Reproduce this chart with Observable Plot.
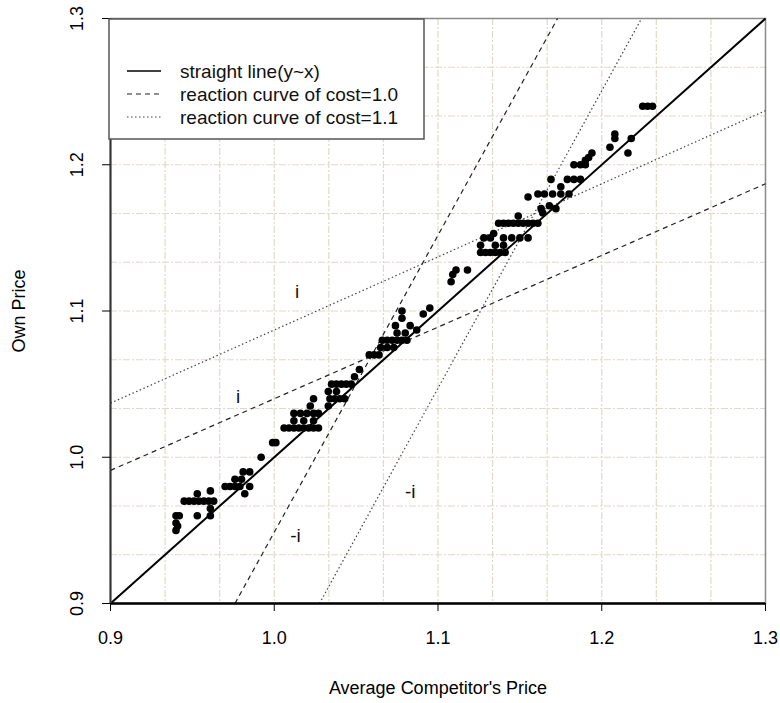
<!DOCTYPE html>
<html><head><meta charset="utf-8">
<script src="https://cdn.jsdelivr.net/npm/d3@7"></script>
<script src="https://cdn.jsdelivr.net/npm/@observablehq/plot@0.6"></script>
<style>body{margin:0;background:#fff;} svg{display:block}</style>
</head><body><div id="chart"></div>
<script>
// ---- data ----
const xTicks = [0.9, 1.0, 1.1, 1.2, 1.3];
const yTicks = [0.9, 1.0, 1.1, 1.2, 1.3];
const gridSteps = [0.9, 0.93333, 0.96667, 1.0, 1.03333, 1.06667, 1.1, 1.13333, 1.16667, 1.2, 1.23333, 1.26667, 1.3];

const legendLabels = ["straight line(y~x)", "reaction curve of cost=1.0", "reaction curve of cost=1.1"];
const lineSeries = ["identity", "cost1.0", "cost1.0", "cost1.1", "cost1.1"];
const lineX1 = [0.9, 0.9, 0.976, 0.9, 1.0276];
const lineY1 = [0.9, 0.991, 0.9, 1.037, 0.9];
const lineX2 = [1.3, 1.3, 1.173, 1.3, 1.2243];
const lineY2 = [1.3, 1.187, 1.3, 1.237, 1.3];

const annLabels = ["i", "i", "-i", "-i"];
const annX = [1.014, 0.978, 1.013, 1.083];
const annY = [1.113, 1.041, 0.946, 0.976];

const competitorPrice = [
0.940,0.941,0.940,0.940,0.942,0.945,0.948,0.951,0.954,0.957,0.960,0.963,0.953,0.961,0.961,0.953,0.961,
0.970,0.973,0.976,0.979,0.982,0.985,0.976,0.980,0.981,0.985,0.992,0.999,1.001,
1.006,1.009,1.012,1.015,1.018,1.021,1.024,1.027,1.012,1.018,1.024,1.012,1.016,1.020,1.024,1.027,
1.022,1.033,1.024,1.034,1.037,1.040,1.043,1.033,1.038,1.035,1.038,1.041,1.044,1.047,1.049,1.052,
1.058,1.061,1.064,1.065,1.069,1.073,1.066,1.069,1.072,1.075,1.078,1.081,1.075,1.080,1.074,1.083,1.078,1.078,
1.087,1.091,1.095,1.108,1.109,1.111,1.118,
1.126,1.129,1.132,1.135,1.138,1.141,1.126,1.135,1.140,1.128,1.132,1.140,1.145,1.150,1.155,1.134,
1.137,1.140,1.143,1.146,1.149,1.152,1.155,1.158,1.161,1.149,1.164,1.163,1.168,1.172,1.155,
1.161,1.165,1.170,1.175,1.180,1.175,1.169,1.179,1.183,1.187,1.183,1.187,1.190,1.190,1.192,1.194,
1.205,1.208,1.208,1.218,1.216,1.225,1.228,1.231];
const ownPrice = [
0.950,0.953,0.955,0.960,0.960,0.970,0.970,0.970,0.970,0.970,0.970,0.970,0.960,0.960,0.965,0.975,0.977,
0.980,0.980,0.980,0.980,0.975,0.980,0.985,0.985,0.990,0.990,1.000,1.010,1.010,
1.020,1.020,1.020,1.020,1.020,1.020,1.020,1.020,1.025,1.025,1.025,1.030,1.030,1.030,1.030,1.030,
1.035,1.035,1.040,1.040,1.040,1.040,1.040,1.045,1.045,1.050,1.050,1.050,1.050,1.050,1.055,1.060,
1.070,1.070,1.070,1.075,1.075,1.075,1.080,1.080,1.080,1.080,1.080,1.080,1.085,1.085,1.090,1.090,1.095,1.100,
1.087,1.098,1.102,1.120,1.125,1.128,1.128,
1.140,1.140,1.140,1.140,1.140,1.140,1.145,1.145,1.145,1.150,1.150,1.150,1.150,1.150,1.150,1.153,
1.160,1.160,1.160,1.160,1.160,1.160,1.160,1.160,1.160,1.165,1.167,1.170,1.172,1.170,1.178,
1.180,1.180,1.180,1.180,1.180,1.185,1.190,1.190,1.190,1.190,1.200,1.200,1.200,1.203,1.205,1.208,
1.212,1.218,1.221,1.218,1.208,1.240,1.240,1.240];

// ---- tables ----
const points = competitorPrice.map((x, i) => ({x, y: ownPrice[i]}));
const segments = lineSeries.map((s, i) => ({series: s, x1: lineX1[i], y1: lineY1[i], x2: lineX2[i], y2: lineY2[i]}));
const annotations = annLabels.map((t, i) => ({t, x: annX[i], y: annY[i]}));
const styles = {
  "identity": {stroke: "#000", width: 2, dash: null},
  "cost1.0": {stroke: "#222", width: 1.2, dash: "5,4"},
  "cost1.1": {stroke: "#444", width: 1.2, dash: "1.5,2.5"}
};
const gridStyle = {stroke: "#dedac8", strokeOpacity: 1, strokeWidth: 1.2, strokeDasharray: "7,2,2,2"};
const font = "'Liberation Sans', Arial, Helvetica, sans-serif";

const svg = Plot.plot({
  width: 780, height: 703,
  marginLeft: 110, marginRight: 15, marginTop: 18, marginBottom: 100,
  x: {domain: [0.9, 1.3]},
  y: {domain: [0.9, 1.3]},
  style: {fontFamily: font, fontSize: "18px", color: "#000", background: "#fff"},
  marks: [
    Plot.gridX(gridSteps, gridStyle),
    Plot.gridY(gridSteps, gridStyle),
    Plot.frame({stroke: "#8a8a8a", strokeWidth: 1.5}),
    ...Object.keys(styles).map(k => Plot.link(segments.filter(d => d.series === k), {
      x1: "x1", y1: "y1", x2: "x2", y2: "y2",
      stroke: styles[k].stroke, strokeWidth: styles[k].width, strokeDasharray: styles[k].dash
    })),
    Plot.dot(points, {x: "x", y: "y", r: 3.8, fill: "#000", stroke: null}),
    Plot.text(annotations, {x: "x", y: "y", text: "t", fontSize: 19, fill: "#111"}),
    Plot.ruleY([0.9], {stroke: "#000", strokeWidth: 2.5}),
    Plot.ruleX([0.9], {stroke: "#333", strokeWidth: 2}),
    Plot.axisX(xTicks, {tickSize: 8, tickPadding: 20, tickFormat: d3.format(".1f"), fontSize: 18,
      label: "Average Competitor's Price", labelAnchor: "center", labelArrow: "none", labelOffset: 90}),
    Plot.axisY(yTicks, {tickSize: 8, tickPadding: 20, tickRotate: -90, tickFormat: d3.format(".1f"), fontSize: 18,
      label: "Own Price", labelAnchor: "center", labelArrow: "none", labelOffset: 98})
  ]
});

// ---- legend (inside plot, top-left) ----
const lg = d3.select(svg).append("g")
  .style("font-family", font).style("font-size", "19px").attr("text-anchor", "start");
lg.append("rect").attr("x", 109).attr("y", 19).attr("width", 315).attr("height", 120)
  .attr("fill", "#fff").attr("stroke", "#555").attr("stroke-width", 1.5);
const keys = ["identity", "cost1.0", "cost1.1"];
const rowY = [71, 94, 117];
keys.forEach((k, i) => {
  lg.append("line").attr("x1", 127).attr("x2", 161).attr("y1", rowY[i]).attr("y2", rowY[i])
    .attr("stroke", styles[k].stroke).attr("stroke-width", k === "identity" ? 1.5 : 1.2)
    .attr("stroke-dasharray", styles[k].dash);
  lg.append("text").attr("x", 180).attr("y", rowY[i]).attr("dy", "0.35em").attr("fill", "#111")
    .style("text-anchor", "start").style("font-size", "19px")
    .text(legendLabels[i]);
});

document.getElementById("chart").appendChild(svg);
</script>
</body></html>
